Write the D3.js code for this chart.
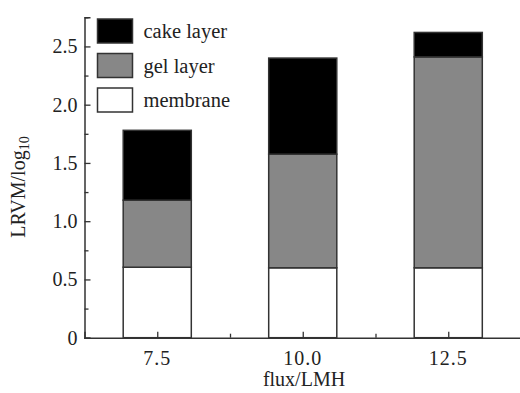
<!DOCTYPE html>
<html>
<head>
<meta charset="utf-8">
<script src="https://cdn.jsdelivr.net/npm/d3@7"></script>
<style>
  body { margin: 0; background: #fff; }
  svg text { font-family: "Liberation Serif", "Times New Roman", serif; fill: #222; }
</style>
</head>
<body>
<div id="chart"></div>
<script>
// data
var fluxes = [7.5, 10.0, 12.5];
var fluxLabels = ["7.5", "10.0", "12.5"];
var membrane = [0.605, 0.60, 0.60];
var gelLayer = [0.575, 0.975, 1.81];
var cakeLayer = [0.60, 0.825, 0.21];
var layerNames = ["membrane", "gel layer", "cake layer"];
var yTicks = [0, 0.5, 1.0, 1.5, 2.0, 2.5];
var yTickLabels = ["0", "0.5", "1.0", "1.5", "2.0", "2.5"];

var W = 520, H = 393;
var margin = { top: 17.3, left: 84.5, bottom: 55.3 };
var colors = { "membrane": "#ffffff", "gel layer": "#878787", "cake layer": "#000000" };

var svg = d3.select("#chart")
    .append("svg")
    .attr("width", W)
    .attr("height", H);

var x = d3.scaleLinear().domain([6.25, 13.75]).range([margin.left, 521]);
var y = d3.scaleLinear().domain([0, 2.75]).range([H - margin.bottom, margin.top]);

// table for the stack
var rows = fluxes.map(function (f, i) {
    return { flux: f, "membrane": membrane[i], "gel layer": gelLayer[i], "cake layer": cakeLayer[i] };
});
var series = d3.stack().keys(layerNames)(rows);

var barW = 1.17; // in flux units
var bars = svg.append("g");
series.forEach(function (s) {
    bars.selectAll(null)
        .data(s)
        .enter()
        .append("rect")
        .attr("x", function (d) { return x(d.data.flux - barW / 2); })
        .attr("width", function (d) { return x(d.data.flux + barW / 2) - x(d.data.flux - barW / 2); })
        .attr("y", function (d) { return y(d[1]); })
        .attr("height", function (d) { return y(d[0]) - y(d[1]); })
        .style("fill", colors[s.key])
        .style("stroke", "#333")
        .style("stroke-width", 1.5);
});

// axes (ticks point inward)
var axisColor = "#333";
var yAxis = svg.append("g")
    .attr("transform", "translate(" + margin.left + ",0)")
    .call(d3.axisRight(y).tickValues(yTicks).tickSize(6).tickFormat(""));
var yMinor = svg.append("g")
    .attr("transform", "translate(" + margin.left + ",0)")
    .call(d3.axisRight(y).tickValues(d3.range(0.25, 2.76, 0.5)).tickSize(4).tickFormat(""));
var xAxis = svg.append("g")
    .attr("transform", "translate(0," + (H - margin.bottom) + ")")
    .call(d3.axisTop(x).tickValues(fluxes).tickSize(6).tickFormat(""));
var xMinor = svg.append("g")
    .attr("transform", "translate(0," + (H - margin.bottom) + ")")
    .call(d3.axisTop(x).tickValues([8.75, 11.25, 13.75]).tickSize(4).tickFormat(""));

[yAxis, yMinor, xAxis, xMinor].forEach(function (g) {
    g.selectAll("path").attr("stroke", axisColor).attr("stroke-width", 1.5);
    g.selectAll("line").attr("stroke", axisColor).attr("stroke-width", 1.3);
});
xMinor.select("path").remove();
yMinor.select("path").remove();

// tick labels
svg.append("g").selectAll("text")
    .data(yTicks)
    .enter()
    .append("text")
    .attr("x", margin.left - 7)
    .attr("y", function (d) { return y(d); })
    .attr("dy", "0.35em")
    .attr("text-anchor", "end")
    .style("font-size", "20px")
    .text(function (d, i) { return yTickLabels[i]; });

svg.append("g").selectAll("text")
    .data(fluxes)
    .enter()
    .append("text")
    .attr("x", function (d) { return x(d); })
    .attr("y", H - margin.bottom + 27)
    .attr("text-anchor", "middle")
    .style("font-size", "20px")
    .style("letter-spacing", "1px")
    .text(function (d, i) { return fluxLabels[i]; });

// axis titles
svg.append("text")
    .attr("x", 304)
    .attr("y", 386)
    .attr("text-anchor", "middle")
    .style("font-size", "20px")
    .text("flux/LMH");

var yTitle = svg.append("text")
    .attr("transform", "translate(25,187) rotate(-90)")
    .attr("text-anchor", "middle")
    .style("font-size", "20px");
yTitle.append("tspan").text("LRVM/log");
yTitle.append("tspan").attr("dy", 4).style("font-size", "14px").text("10");

// legend
var legendItems = ["cake layer", "gel layer", "membrane"];
var legend = svg.append("g").attr("transform", "translate(97.5,19)");
legendItems.forEach(function (name, i) {
    var g = legend.append("g").attr("transform", "translate(0," + (i * 34.5) + ")");
    g.append("rect")
        .attr("width", 35)
        .attr("height", 24)
        .style("fill", colors[name])
        .style("stroke", "#333")
        .style("stroke-width", 1.5);
    g.append("text")
        .attr("x", 46)
        .attr("y", 12)
        .attr("dy", "0.35em")
        .style("font-size", "20.5px")
        .text(name);
});
</script>
</body>
</html>
